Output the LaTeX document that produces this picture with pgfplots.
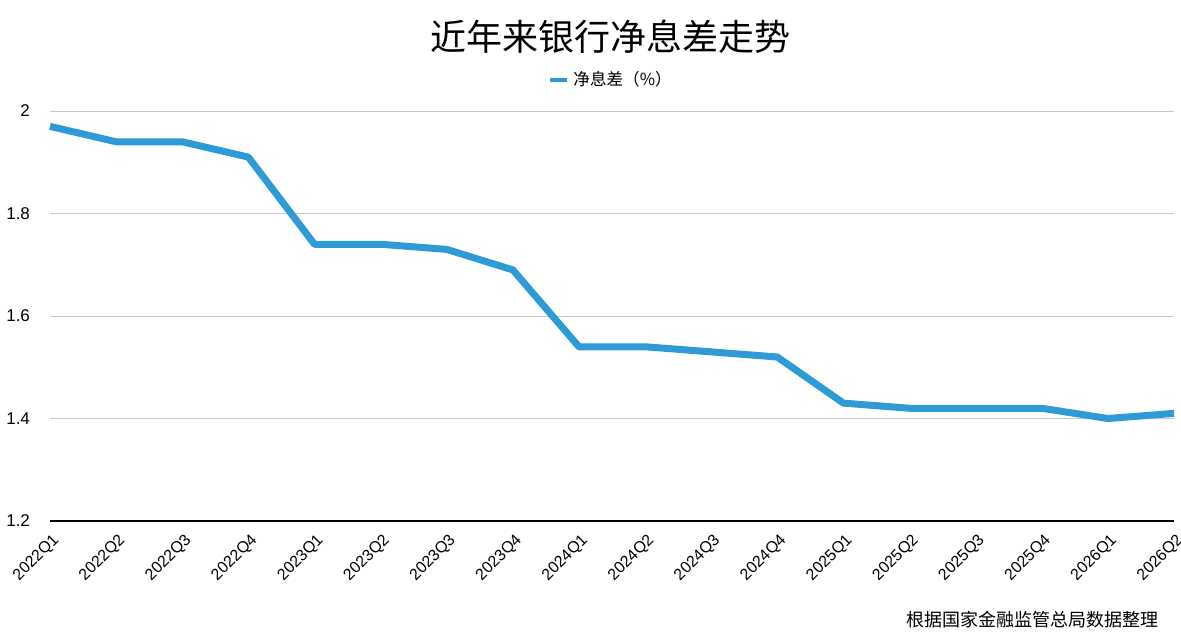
\documentclass[border=0pt]{standalone}
\usepackage{pgfplots}
\pgfplotsset{compat=1.18}
\usepackage{fontspec}
\setmainfont{Liberation Sans}
\newfontfamily\cjk{Noto Sans CJK SC}
\definecolor{lineblue}{HTML}{2E9BD6}
\begin{document}
\begin{tikzpicture}
\path[use as bounding box] (0pt,0pt) rectangle (590.5pt,321.5pt);
\begin{axis}[
  at={(25pt,61pt)}, anchor=south west,
  scale only axis, width=562pt, height=205pt,
  xmin=0, xmax=17, ymin=1.2, ymax=2.0,
  xtick={0,...,17},
  xticklabels={2022Q1,2022Q2,2022Q3,2022Q4,2023Q1,2023Q2,2023Q3,2023Q4,2024Q1,2024Q2,2024Q3,2024Q4,2025Q1,2025Q2,2025Q3,2025Q4,2026Q1,2026Q2},
  x tick label style={rotate=45, anchor=north east, font=\fontsize{8}{9}\selectfont, inner sep=0.5pt, xshift=-3pt, yshift=-4pt},
  ytick={1.2,1.4,1.6,1.8,2.0},
  yticklabels={1.2,1.4,1.6,1.8,2},
  y tick label style={font=\fontsize{8.5}{10}\selectfont, xshift=-6.5pt},
  ymajorgrids, major grid style={draw=black!22, line width=0.5pt},
  axis x line*=bottom, axis y line*=left,
  y axis line style={draw=none},
  x axis line style={-, black, line width=1pt},
  major tick length=0pt,
  clip=false,
  legend style={at={(0.5,1.0)}, anchor=south, yshift=7pt, draw=none, fill=none,
    font=\cjk\fontsize{8.3}{10}\selectfont, legend columns=1},
  legend image code/.code={\draw[lineblue, line width=2pt] (0cm,0cm) -- (0.3cm,0cm);},
]
\addplot[lineblue, line width=3.5pt, line join=round, mark=none] coordinates {
(0,1.97) (1,1.94) (2,1.94) (3,1.91) (4,1.74) (5,1.74) (6,1.73) (7,1.69)
(8,1.54) (9,1.54) (10,1.53) (11,1.52) (12,1.43) (13,1.42) (14,1.42) (15,1.42)
(16,1.40) (17,1.41)};
\addlegendentry{净息差（\%）}
\end{axis}
\node[font=\cjk\fontsize{18}{20}\selectfont] at (305pt,303pt) {近年来银行净息差走势};
\node[font=\cjk\fontsize{9}{11}\selectfont, anchor=east] at (583pt,11.5pt) {根据国家金融监管总局数据整理};
\end{tikzpicture}
\end{document}
